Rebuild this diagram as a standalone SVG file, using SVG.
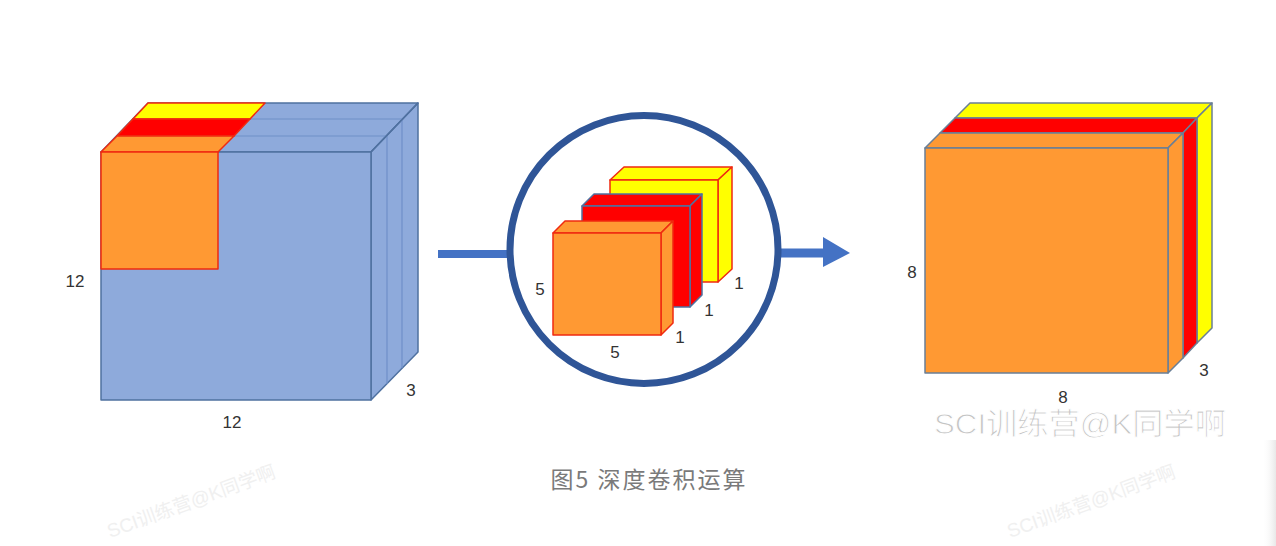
<svg xmlns="http://www.w3.org/2000/svg" width="1276" height="546" viewBox="0 0 1276 546">
<style>
.blue{fill:#8eaadb;stroke:#4f71a0;stroke-width:1.5;stroke-linejoin:round}
.bl{fill:none;stroke:#6f8fc8;stroke-width:1.2}
.or{fill:#ff9933;stroke:#f02a10;stroke-width:1.5;stroke-linejoin:round}
.rd{fill:#ff0000;stroke:#f02a10;stroke-width:1.5;stroke-linejoin:round}
.ye{fill:#ffff00;stroke:#f02a10;stroke-width:1.5;stroke-linejoin:round}
.rdb{fill:#ff0000;stroke:#4f71a0;stroke-width:1.5;stroke-linejoin:round}
.og{fill:#ff9933;stroke:#6a7f96;stroke-width:1.5;stroke-linejoin:round}
.rg{fill:#ff0000;stroke:#6a7f96;stroke-width:1.5;stroke-linejoin:round}
.yg{fill:#ffff00;stroke:#6a7f96;stroke-width:1.5;stroke-linejoin:round}
.lbl{font-family:"Liberation Sans",Arial,sans-serif;font-size:17px;fill:#333}
.cap{font-family:"Noto Sans CJK SC","Liberation Sans",sans-serif;font-size:23px;fill:#7a7a7a}
.wm{font-family:"Liberation Sans","Noto Sans CJK SC",sans-serif;font-size:30px;fill:#c4c4c4}
.wmf{font-family:"Liberation Sans","Noto Sans CJK SC",sans-serif;font-size:19px;fill:#f0f0f0}
</style>
<defs>
<linearGradient id="edge" x1="0" x2="1" y1="0" y2="0">
<stop offset="0" stop-color="#ffffff" stop-opacity="0"/>
<stop offset="1" stop-color="#e8e8e8"/>
</linearGradient>
</defs>
<rect width="1276" height="546" fill="#ffffff"/>
<rect x="1262" y="440" width="14" height="106" fill="url(#edge)"/>

<g id="input-volume">
<polygon class="blue" points="101,152 371,152 418,103 148,103"/>
<polygon class="blue" points="371,152 418,103 418,352 371,400"/>
<rect class="blue" x="101" y="152" width="270" height="248"/>
<polyline class="bl" points="234,136 387,136 387,384"/>
<polyline class="bl" points="250,119 402,119 402,368"/>
<line class="blue" x1="371" y1="152" x2="418" y2="103"/>
<polygon class="ye" points="133,119 250,119 265,103 148,103"/>
<polygon class="rd" points="117,136 234,136 250,119 133,119"/>
<polygon class="or" points="101,152 218,152 234,136 117,136"/>
<rect class="or" x="101" y="152" width="117" height="117"/>
<text class="lbl" x="75" y="287" text-anchor="middle">12</text>
<text class="lbl" x="232" y="428" text-anchor="middle">12</text>
<text class="lbl" x="411" y="396" text-anchor="middle">3</text>
</g>

<g id="connectors">
<line x1="438" y1="254" x2="508" y2="254" stroke="#4472c4" stroke-width="8"/>
<line x1="780" y1="253" x2="826" y2="253" stroke="#4472c4" stroke-width="9"/>
<polygon points="823,237 850,253 823,267" fill="#4472c4"/>
</g>

<g id="kernels">
<circle cx="644" cy="249.5" r="134" fill="#ffffff" stroke="#2f5597" stroke-width="7"/>
<polygon class="ye" points="610,180 718,180 732,167 624,167"/>
<polygon class="ye" points="718,180 732,167 732,269 718,282"/>
<rect class="ye" x="610" y="180" width="108" height="102"/>
<polygon class="rdb" points="582,206 690,206 702,194 594,194"/>
<polygon class="rdb" points="690,206 702,194 702,295 690,307"/>
<rect class="rdb" x="582" y="206" width="108" height="101"/>
<polygon class="or" points="553,233 661,233 673,221 565,221"/>
<polygon class="or" points="661,233 673,221 673,323 661,335"/>
<rect class="or" x="553" y="233" width="108" height="102"/>
<text class="lbl" x="540" y="295" text-anchor="middle">5</text>
<text class="lbl" x="615" y="358" text-anchor="middle">5</text>
<text class="lbl" x="680" y="343" text-anchor="middle">1</text>
<text class="lbl" x="709" y="316" text-anchor="middle">1</text>
<text class="lbl" x="739" y="289" text-anchor="middle">1</text>
</g>

<g id="output-volume">
<polygon class="yg" points="955,118 1197,118 1212,103 970,103"/>
<polygon class="yg" points="1197,118 1212,103 1212,328 1197,343"/>
<polygon class="rg" points="940,133 1183,133 1197,118 955,118"/>
<polygon class="rg" points="1183,133 1197,118 1197,343 1183,358"/>
<polygon class="og" points="925,148 1168,148 1183,133 940,133"/>
<polygon class="og" points="1168,148 1183,133 1183,358 1168,373"/>
<rect class="og" x="925" y="148" width="243" height="225"/>
<text class="lbl" x="912" y="278" text-anchor="middle">8</text>
<text class="lbl" x="1063" y="403" text-anchor="middle">8</text>
<text class="lbl" x="1204" y="376" text-anchor="middle">3</text>
</g>

<g id="watermarks">
<text class="wm" x="934" y="434" stroke="#ffffff" stroke-width="1" textLength="292" lengthAdjust="spacingAndGlyphs">SCI训练营@K同学啊</text>
<text class="wmf" x="110" y="538" transform="rotate(-20 110 538)">SCI训练营@K同学啊</text>
<text class="wmf" x="1010" y="538" transform="rotate(-20 1010 538)">SCI训练营@K同学啊</text>
</g>

<text class="cap" x="649" y="488" text-anchor="middle" letter-spacing="2">图5 深度卷积运算</text>
</svg>
